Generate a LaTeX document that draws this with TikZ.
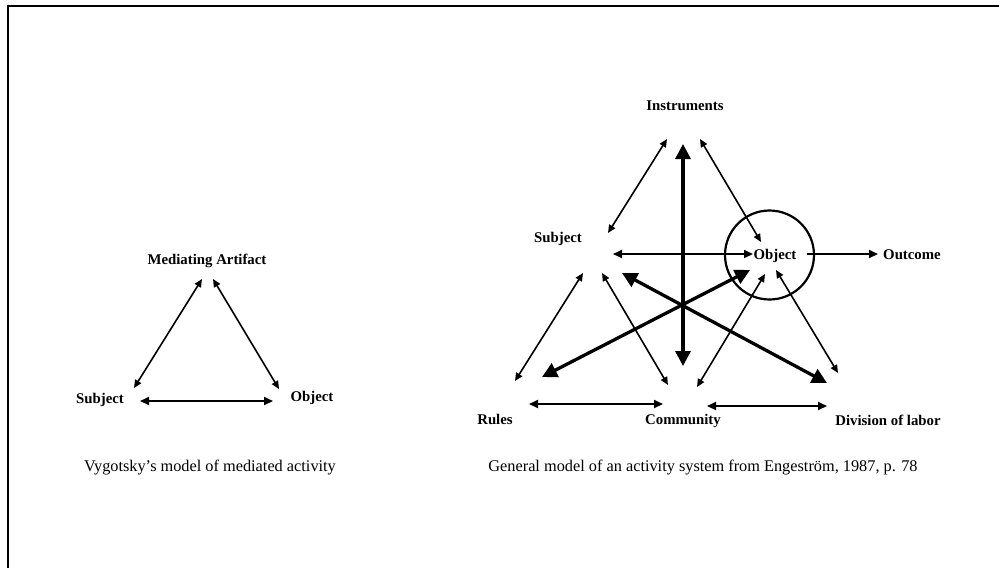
\documentclass[tikz,border=0pt]{standalone}
\usepackage{fontspec}
\setmainfont{Liberation Serif}
\usetikzlibrary{arrows.meta}
\begin{document}
\begin{tikzpicture}[x=1pt,y=-1pt,
  lbl/.style={font=\fontsize{14.8}{17}\selectfont\bfseries, inner sep=0pt, anchor=base},
  captxt/.style={font=\fontsize{16.3}{18}\selectfont, inner sep=0pt, anchor=base},
  tarrow/.style={line width=1.6pt, {Triangle[length=8pt,width=7pt]}-{Triangle[length=8pt,width=7pt]}},
  marrow/.style={line width=2pt, {Triangle[length=9pt,width=8pt]}-{Triangle[length=9pt,width=8pt]}},
  barrow/.style={line width=3.3pt, {Triangle[length=15pt,width=15pt]}-{Triangle[length=15pt,width=15pt]}},
  framel/.style={line width=2.3pt}]
\useasboundingbox (0,0) rectangle (999,568);
\fill[white] (0,0) rectangle (999,568);
\coordinate (fbl) at (8,568);
\coordinate (ftl) at (8,6);
\coordinate (ftr) at (999,6);
\draw[framel] (fbl) -- (ftl) -- (ftr);

% ---- left diagram ----
\node[lbl] (ma) at (207,264) {Mediating Artifact};
\node[lbl] (s1) at (100,403) {Subject};
\node[lbl] (o1) at (312,401) {Object};
\coordinate (ma-l) at (202,279);
\coordinate (ma-r) at (213,279);
\coordinate (s1-u) at (134,388);
\coordinate (s1-r) at (140,401);
\coordinate (o1-u) at (279,389);
\coordinate (o1-l) at (273,401);
\draw[tarrow] (s1-u) -- (ma-l);
\draw[tarrow] (ma-r) -- (o1-u);
\draw[marrow] (s1-r) -- (o1-l);

% ---- right diagram ----
\node[lbl] (ins) at (685,110) {Instruments};
\node[lbl] (s2) at (558,242) {Subject};
\node[lbl] (o2) at (775,259) {Object};
\node[lbl] (out) at (912,259) {Outcome};
\node[lbl] (rul) at (495,424) {Rules};
\node[lbl] (com) at (683,424) {Community};
\node[lbl] (div) at (888,425) {Division of labor};
\node[circle, draw, line width=2.2pt, minimum size=89pt, inner sep=0pt] (circ) at (769.5,255) {};

\coordinate (ins-l) at (667,139);
\coordinate (ins-r) at (700,139);
\coordinate (ins-v) at (683,144);
\coordinate (com-v) at (683,366);
\coordinate (s2-u) at (608,233);
\coordinate (s2-r) at (613,254);
\coordinate (o2-l) at (753,254);
\coordinate (o2-u) at (761,242);
\coordinate (o2-o) at (807,254);
\coordinate (out-l) at (878,254);
\coordinate (s2-d1) at (583,273);
\coordinate (rul-u) at (515,381);
\coordinate (s2-d2) at (602,273);
\coordinate (com-u1) at (668,385);
\coordinate (com-u2) at (697,387);
\coordinate (o2-d1) at (765,274);
\coordinate (o2-d2) at (776,270);
\coordinate (div-u) at (838,373);
\coordinate (rul-r) at (529,404);
\coordinate (com-l) at (663,404);
\coordinate (com-r) at (707,406);
\coordinate (div-l) at (827,406);
\coordinate (rul-t) at (542,377);
\coordinate (o2-t) at (750,270);
\coordinate (s2-t) at (622,273);
\coordinate (div-t) at (827,383);

\draw[tarrow] (s2-u) -- (ins-l);
\draw[tarrow] (ins-r) -- (o2-u);
\draw[barrow] (ins-v) -- (com-v);
\draw[marrow] (s2-r) -- (o2-l);
\draw[line width=2pt, -{Triangle[length=9pt,width=8pt]}] (o2-o) -- (out-l);
\draw[tarrow] (s2-d1) -- (rul-u);
\draw[tarrow] (s2-d2) -- (com-u1);
\draw[tarrow] (com-u2) -- (o2-d1);
\draw[tarrow] (o2-d2) -- (div-u);
\draw[marrow] (rul-r) -- (com-l);
\draw[marrow] (com-r) -- (div-l);
\draw[barrow] (rul-t) -- (o2-t);
\draw[barrow] (s2-t) -- (div-t);

% ---- captions ----
\node[captxt] (c1) at (210,471) {Vygotsky's model of mediated activity};
\node[captxt] (c2) at (703,471) {General model of an activity system from Engeström, 1987, p. 78};
\end{tikzpicture}
\end{document}
